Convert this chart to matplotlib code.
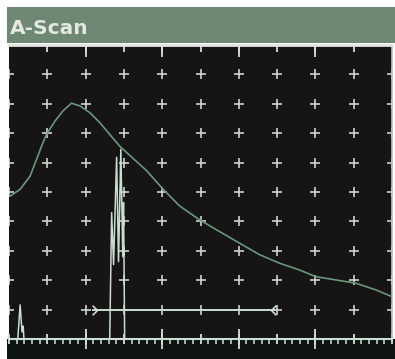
#!/usr/bin/env python3
# -*- coding: utf-8 -*-

import numpy as np
import matplotlib
matplotlib.use("Agg")
import matplotlib.pyplot as plt
from matplotlib.patches import Rectangle
from matplotlib.path import Path

# DAC curve (x in screen divisions, y in % screen height)
dac_x = [0.03, 0.29, 0.55, 0.72, 0.85, 0.98, 1.20, 1.41, 1.63, 1.85, 2.11, 2.37,
         2.63, 2.89, 3.15, 3.59, 4.02, 4.45, 4.97, 5.49, 6.02, 6.54, 7.06, 7.58,
         8.01, 8.53, 9.05, 9.58, 10.0]
dac_y = [48.6, 50.9, 55.4, 61.1, 65.6, 69.6, 74.1, 77.6, 80.2, 79.3, 77.0, 73.6,
         69.6, 65.6, 62.5, 57.3, 51.0, 45.3, 40.6, 36.6, 32.6, 28.7, 25.8, 23.5,
         21.2, 20.1, 19.0, 16.7, 14.4]

# A-scan trace
sig_x = [0.0, 0.23, 0.29, 0.34, 0.37, 0.39, 2.63, 2.68, 2.73, 2.81, 2.86, 2.92,
         2.97, 2.99, 3.02, 10.0]
sig_y = [0.0, 0.0, 11.6, 2.4, 4.4, 0.0, 0.0, 43.0, 25.3, 61.8, 26.3, 64.5,
         28.0, 46.4, 0.0, 0.0]

# gate
gate_start = 2.19
gate_end = 6.93
gate_level = 9.9

title = "A-Scan"

W, H = 395, 359


def main():
    fig = plt.figure(figsize=(W / 100, H / 100), dpi=100)
    fig.patch.set_facecolor("white")

    # title bar + dark strip under the screen
    fig.add_artist(Rectangle((7 / W, (H - 43) / H), (W - 7) / W, 36 / H,
                             transform=fig.transFigure, facecolor="#6e8873",
                             edgecolor="none", zorder=-2))
    fig.add_artist(Rectangle((7 / W, 0), (W - 7) / W, (H - 339) / H,
                             transform=fig.transFigure, facecolor="#0d1411",
                             edgecolor="none", zorder=-2))
    fig.text(10 / W, (H - 34) / H, title, color="#e3e9e0", fontsize=14.5,
             fontweight="bold", family="DejaVu Sans")

    ax = fig.add_axes([9 / W, (H - 339) / H, (392 - 9) / W, (339 - 45) / H])
    ax.set_facecolor("#161414")
    ax.set_xlim(0, 10)
    ax.set_ylim(0, 100)

    light = "#d6e0d8"
    ax.spines["left"].set_visible(False)
    ax.spines["right"].set_color("#b8c4bc")
    ax.spines["right"].set_linewidth(1.2)
    ax.spines["top"].set_color("#dfe8e0")
    ax.spines["top"].set_linewidth(2)
    ax.spines["bottom"].set_color(light)
    ax.spines["bottom"].set_linewidth(1.5)

    # grid crosses
    gx, gy = np.meshgrid(np.arange(0, 11), np.arange(10, 100, 10))
    ax.plot(gx.ravel(), gy.ravel(), "+", color="#ccd5cd", ms=6.5, mew=1.2,
            linestyle="none", zorder=2)

    # bottom ticks
    ax.set_xticks(np.arange(0, 11, 1))
    ax.set_xticks(np.arange(0, 10.01, 0.2), minor=True)
    ax.tick_params(axis="x", which="major", direction="inout", length=7,
                   width=1.3, color=light, labelbottom=False)
    ax.tick_params(axis="x", which="minor", direction="out", length=3.5,
                   width=1.1, color=light)
    ax.set_yticks([])
    sec = ax.secondary_xaxis("bottom")
    sec.set_xticks(np.arange(2, 10, 2))
    sec.tick_params(direction="inout", length=14, width=1.3, color=light,
                    labelbottom=False)
    sec.spines["bottom"].set_visible(False)

    # top ticks
    top = ax.secondary_xaxis("top")
    top.set_xticks(np.arange(1, 10, 1))
    top.tick_params(direction="in", length=5, width=1.3, color=light,
                    labeltop=False)
    top.spines["top"].set_visible(False)
    top2 = ax.secondary_xaxis("top")
    top2.set_xticks(np.arange(2, 10, 2))
    top2.tick_params(direction="in", length=8.5, width=1.3, color=light,
                     labeltop=False)
    top2.spines["top"].set_visible(False)

    # DAC curve
    ax.plot(dac_x, dac_y, color="#6a977e", lw=1.2, zorder=3)

    # signal
    ax.plot(sig_x, sig_y, color="#c9ddd0", lw=1.1, zorder=4, clip_on=False)

    # gate with arrow ends
    ax.plot([gate_start, gate_end], [gate_level, gate_level], color="#c9ddd0",
            lw=1.4, zorder=4)
    right_v = Path([(-1, 1), (0, 0), (-1, -1)],
                   [Path.MOVETO, Path.LINETO, Path.LINETO])
    left_v = Path([(1, 1), (0, 0), (1, -1)],
                  [Path.MOVETO, Path.LINETO, Path.LINETO])
    ax.plot([gate_start + 0.12], [gate_level], marker=right_v, ms=7,
            mfc="none", mec="#c9ddd0", mew=1.2, zorder=4)
    ax.plot([gate_end - 0.1], [gate_level], marker=left_v, ms=7,
            mfc="none", mec="#c9ddd0", mew=1.2, zorder=4)

    plt.savefig("out.png", dpi=100)


if __name__ == "__main__":
    main()
